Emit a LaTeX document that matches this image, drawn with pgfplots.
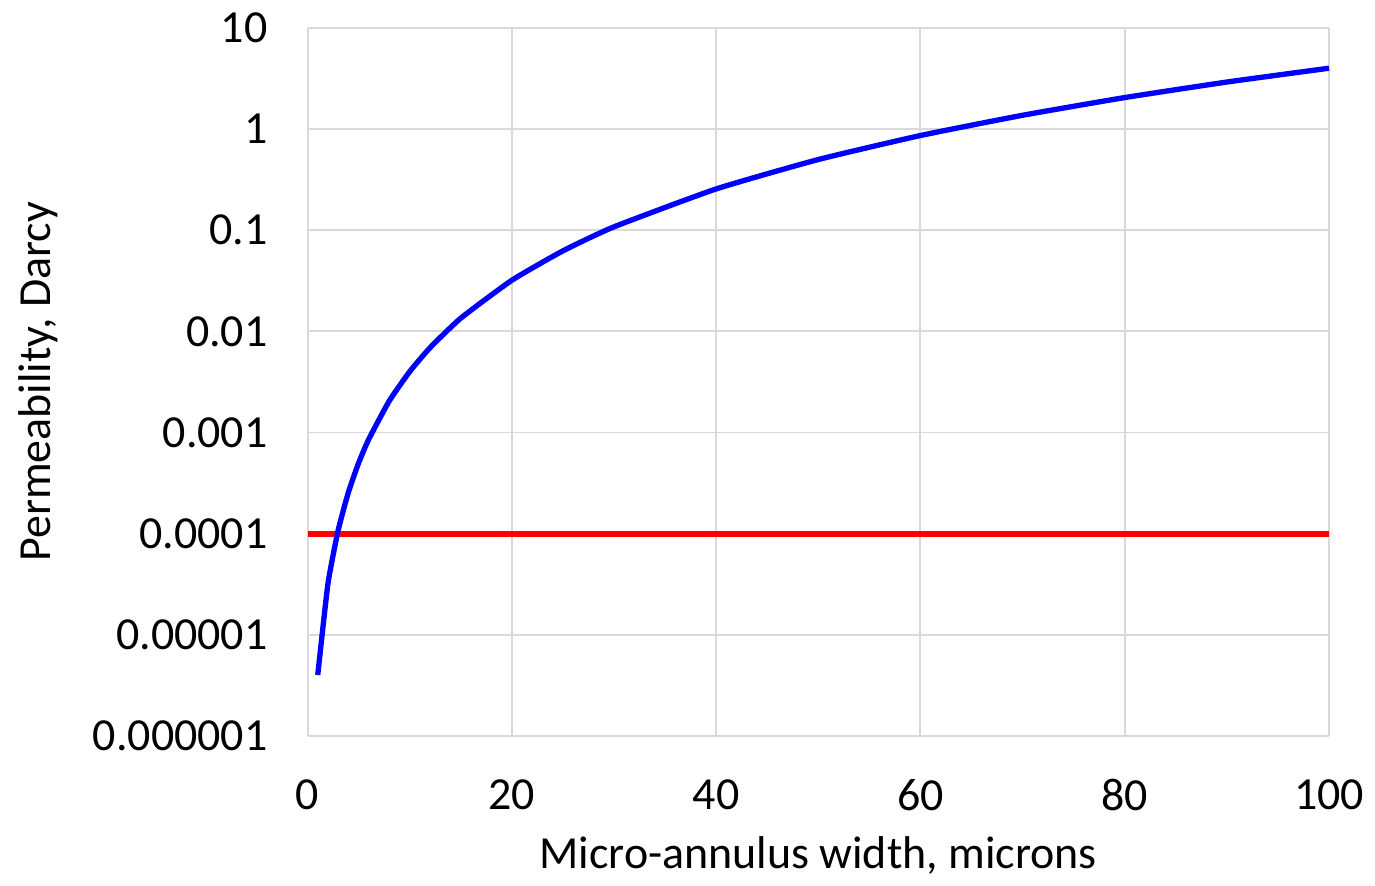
\documentclass[border=0pt]{standalone}
\usepackage{pgfplots}
\pgfplotsset{compat=1.18}
\usepackage{fontspec}
\setmainfont{Carlito}
\definecolor{gridgray}{RGB}{217,217,217}
\begin{document}
\begin{tikzpicture}
\begin{axis}[
    scale only axis,
    width=306.9pt,
    height=212.7pt,
    ymode=log,
    xmin=0, xmax=100,
    ymin=1e-6, ymax=10,
    xtick={0,20,40,60,80,100},
    ytick={1e-6,1e-5,1e-4,1e-3,1e-2,1e-1,1,10},
    yticklabels={0.000001,0.00001,0.0001,0.001,0.01,0.1,1,10},
    minor ytick={},
    grid=major,
    grid style={gridgray, line width=0.6pt},
    axis line style={gridgray, line width=0.6pt},
    axis x line*=bottom,
    axis y line*=left,
    tick style={draw=none},
    font=\fontsize{13.8}{16}\selectfont,
    /pgf/number format/assume math mode=true,
    xticklabel shift=9.5pt,
    yticklabel shift=8.5pt,
    xlabel={Micro-annulus width, microns},
    ylabel={Permeability, Darcy},
    xlabel style={at={(axis description cs:0.5,-0.169)}, anchor=center},
    ylabel style={at={(axis description cs:-0.264,0.5)}, anchor=center, rotate=0},
    clip=false,
]
\addplot[red, line width=1.8pt] coordinates {(0,1e-4) (100,1e-4)};
\addplot[blue, line width=1.6pt, smooth, tension=0.3] coordinates {
    (1,4.0e-6) (2,3.2e-5) (3,1.08e-4) (4,2.56e-4) (5,5.0e-4) (6,8.6e-4)
    (8,2.05e-3) (10,4.0e-3) (12,6.9e-3) (15,1.35e-2) (20,3.2e-2)
    (25,6.25e-2) (30,0.108) (40,0.256) (50,0.50) (60,0.864)
    (70,1.37) (80,2.05) (90,2.92) (100,4.0)
};
\end{axis}
\path[use as bounding box] ([xshift=-92.4pt,yshift=-42.6pt]current axis.south west)
    rectangle ([xshift=13.2pt,yshift=8.4pt]current axis.north east);
\end{tikzpicture}
\end{document}
